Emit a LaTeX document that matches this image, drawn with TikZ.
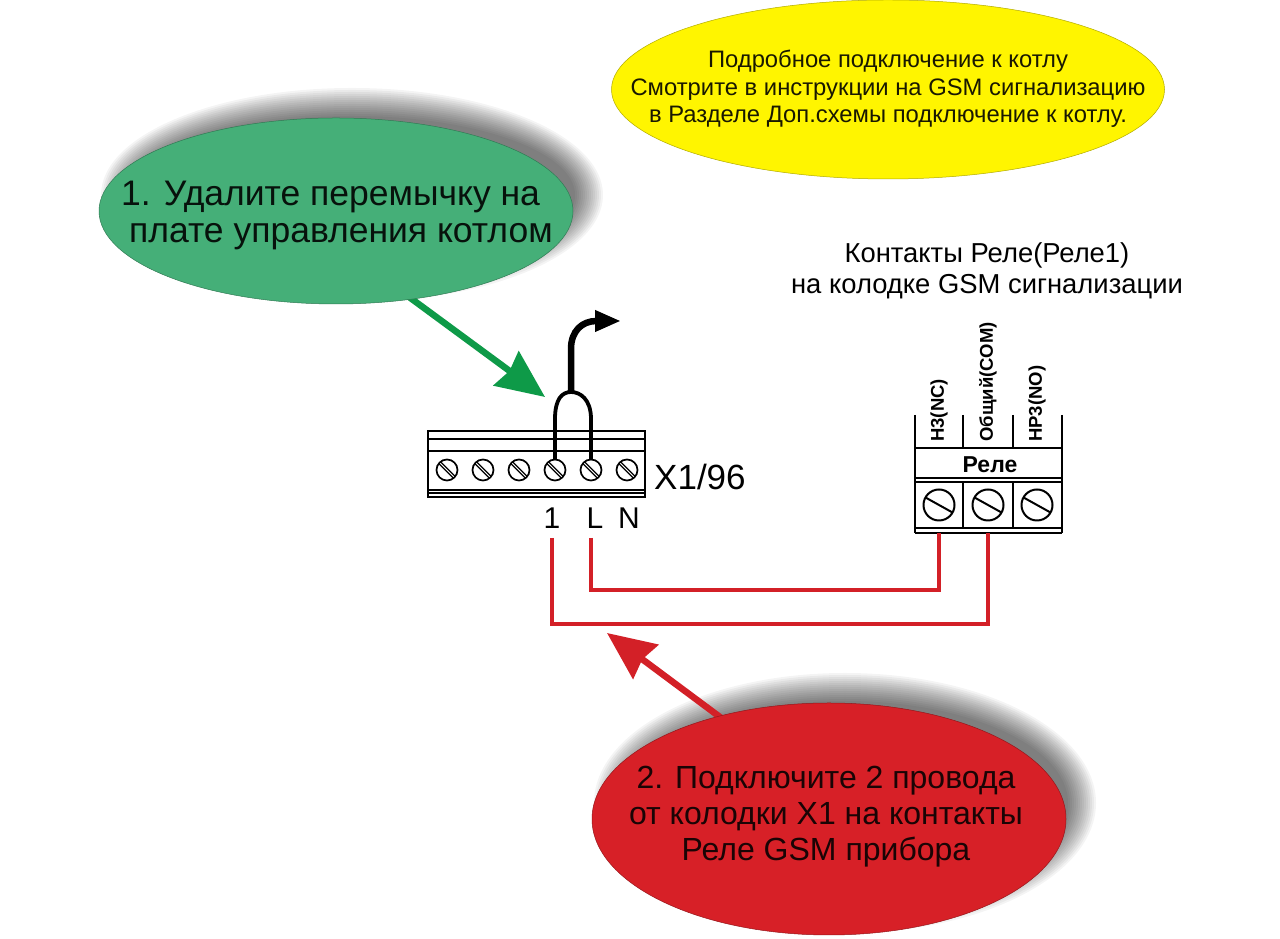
\documentclass[tikz,border=0pt]{standalone}
\usepackage{fontspec}
\setmainfont{Liberation Sans}
\usetikzlibrary{arrows.meta,calc}
\usetikzlibrary{positioning,shapes.geometric}
\definecolor{bubblegreen}{HTML}{45AF78}
\definecolor{arrowgreen}{HTML}{0E9A48}
\definecolor{bubblered}{HTML}{D72027}
\definecolor{wirered}{HTML}{D32027}
\definecolor{bubbleyellow}{HTML}{FFF500}
\tikzset{
  bubble/.style={ellipse,inner sep=0pt,draw=#1!70!black,line width=0.5pt,fill=#1},
  wire/.style={draw=wirered,line width=4.5pt},
  frame/.style={line width=1.8pt},
  bubbletext/.style={align=center,font=\fontsize{#1}{#1}\selectfont,inner sep=0pt},
  pinlabel/.style={rotate=90,anchor=west,inner sep=0pt,font=\bfseries\fontsize{18.5}{18.5}\selectfont}
}
% soft shadow of an ellipse: centre, half axes
\def\SoftShadow(#1)#2#3{%
  \foreach \grow in {14,12,...,-14}
    \fill[black,opacity=0.045] ($(#1)+(16,16)$) ellipse ({#2+\grow} and {#3+\grow});
}
% screw of the X1 block, two lines in the slot
\def\BlockScrew(#1)#2{%
  \begin{scope}[shift={(#1)}]
    \draw[line width=1.7pt,fill=white] (0,0) circle (10.5);
    \draw[line width=1.2pt] (-8,6.2) -- (6.2,-8);
    \draw[line width=1.2pt] (-6.2,8) -- (8,-6.2);
    \coordinate (#2) at (0,-10);
  \end{scope}
}
% screw of the relay, one line in the slot
\def\RelayScrew(#1)#2{%
  \begin{scope}[shift={(#1)}]
    \draw[line width=2pt] (0,0) circle (15.5);
    \draw[line width=2pt] (-13.5,7.5) -- (13.5,-7.5);
    \coordinate (#2) at (0,-28);
  \end{scope}
}
\begin{document}
\begin{tikzpicture}[x=1pt,y=1pt]
  \useasboundingbox (0,0) rectangle (1280,939);
  \fill[white] (0,0) rectangle (1280,939);
  % Shadows go under everything
  \SoftShadow(336,728){237}{93}
  \SoftShadow(829,120){237}{116}
  % Arrows from the bubbles
  \coordinate (green tail) at (405,645);
  \coordinate (green tip) at (545,542);
  \coordinate (red tail) at (728,216);
  \coordinate (red tip) at (607,306);
  \draw[arrowgreen,line width=6.5pt,-{Stealth[inset=4pt,length=48pt,width=42pt]}] (green tail) -- (green tip);
  \draw[wirered,line width=6.5pt,-{Stealth[inset=4pt,length=48pt,width=42pt]}] (red tail) -- (red tip);
  % The bubbles
  \node[bubble=bubblegreen,minimum width=474pt,minimum height=186pt] (green) at (336,728) {};
  \node[bubble=bubblered,minimum width=474pt,minimum height=232pt] (red) at (829,120) {};
  \node[bubble=bubbleyellow,minimum width=553pt,minimum height=179pt] (yellow) at (888,849.5) {};
  \node[bubbletext=35.5,anchor=west,text=black!90!bubblegreen] at (121,742) {1. Удалите перемычку на};
  \node[bubbletext=35.5,anchor=west,text=black!90!bubblegreen] at (129,702) {плате управления котлом};
  \node[bubbletext=32,text=black!88!bubblered] at (826,122) {2. Подключите 2 провода\\[4pt]от колодки X1 на контакты\\[4pt]Реле GSM прибора};
  \node[bubbletext=23.8,text=black!90!bubbleyellow] at (888,850) {Подробное подключение к котлу\\[3.7pt]Смотрите в инструкции на GSM сигнализацию\\[3.7pt]в Разделе Доп.схемы подключение к котлу.};
  % The block X1
  \draw[frame] (428,442) rectangle (645,508);
  \draw[frame] (428,500) -- (645,500);
  \draw[frame] (428,488) -- (645,488);
  \draw[frame] (428,449) -- (645,449);
  \draw[frame] (428,446) -- (645,446);
  \BlockScrew(447,469){scr a}
  \BlockScrew(483,469){scr b}
  \BlockScrew(519,469){scr c}
  \BlockScrew(555,469){scr d}
  \BlockScrew(591,469){scr e}
  \BlockScrew(627,469){scr f}
  \node[anchor=west,inner sep=0pt,font=\fontsize{35}{35}\selectfont] at (654,462) {X1/96};
  \node[font=\fontsize{30}{30}\selectfont,inner sep=0pt] (pin one) at (552,421) {1};
  \node[font=\fontsize{30}{30}\selectfont,inner sep=0pt] (pin L) at (595,421) {L};
  \node[font=\fontsize{30}{30}\selectfont,inner sep=0pt] at (629,421) {N};
  % Jumper and the arrow that takes it away
  \coordinate (jump top) at (571,547);
  \draw[line width=3.8pt] (555,479) -- (555,520) .. controls (555,540) and (562,547) .. (jump top)
    .. controls (580,547) and (591,540) .. (591,520) -- (591,479);
  \draw[line width=6.5pt,-{Triangle[length=26pt,width=20pt]}] (jump top) -- (571,590)
    .. controls (571,608) and (582,618) .. (621,618);
  % The relay block
  \draw[frame] (915,524) -- (915,406);
  \draw[frame] (1062,524) -- (1062,406);
  \draw[frame] (963,524) -- (963,491);
  \draw[frame] (1013,524) -- (1013,491);
  \draw[frame] (963,457) -- (963,411);
  \draw[frame] (1013,457) -- (1013,411);
  \draw[frame] (915,491) -- (1062,491);
  \draw[frame] (915,461) -- (1062,461);
  \draw[frame] (915,457) -- (1062,457);
  \draw[frame] (915,411) -- (1062,411);
  \draw[frame] (915,406) -- (1062,406);
  \node[inner sep=0pt,font=\bfseries\fontsize{23}{23}\selectfont] at (990,474) {Реле};
  \RelayScrew(939,434){rel a}
  \RelayScrew(988,434){rel b}
  \RelayScrew(1037,434){rel c}
  \node[pinlabel] at (939,497) {Н3(NC)};
  \node[pinlabel] at (988,497) {Общий(COM)};
  \node[pinlabel] at (1037,497) {НР3(NO)};
  \node[bubbletext=27.4] at (987,668) {Контакты Реле(Реле1)\\[3.6pt]на колодке GSM сигнализации};
  % Wires from the pins to the relay
  \coordinate (wire one) at (552,401);
  \coordinate (wire L) at (591,401);
  \coordinate (bus one) at (552,315);
  \coordinate (bus L) at (591,349);
  \draw[wire] (wire one) -- (bus one) -| (rel b);
  \draw[wire] (wire L) -- (bus L) -| (rel a);
\end{tikzpicture}
\end{document}
